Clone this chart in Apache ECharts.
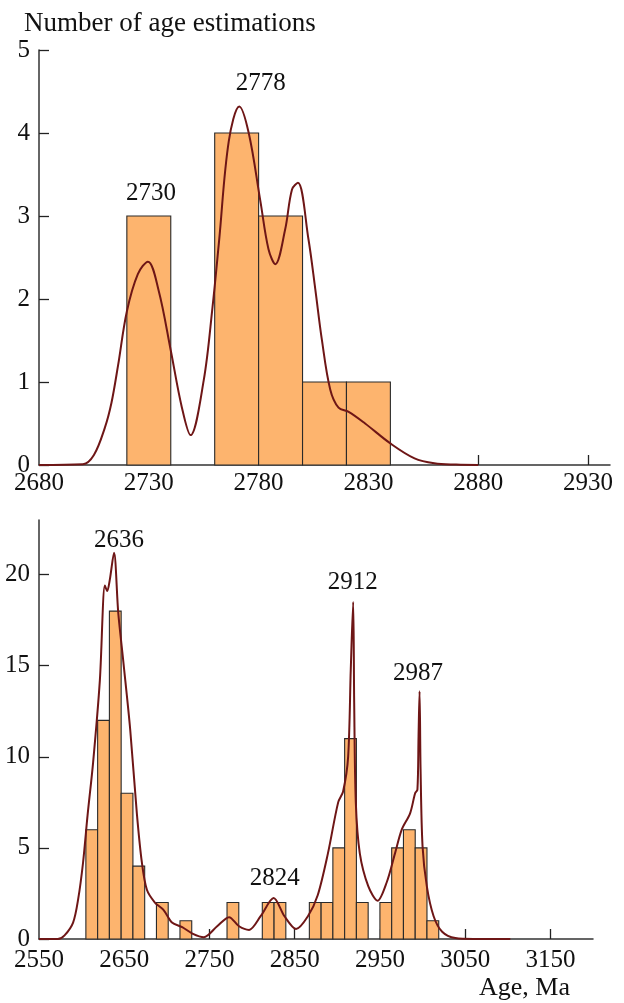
<!DOCTYPE html>
<html>
<head>
<meta charset="utf-8">
<script src="https://cdn.jsdelivr.net/npm/echarts@6/dist/echarts.min.js"></script>
<style>
  html, body { margin: 0; padding: 0; background: #fff; }
  #main { width: 624px; height: 1003px; }
</style>
</head>
<body>
<div id="main"></div>
<script>
// upper panel: histogram (bin start, 20 Ma bins) + density curve
var topBinStart = [2720, 2760, 2780, 2800, 2820];
var topCounts = [3, 4, 3, 1, 1];
var topBinWidth = 20;
var topCurveAge = [2680, 2700, 2705, 2710, 2713, 2716, 2720, 2725, 2729.6, 2734.5, 2740, 2745, 2749, 2755, 2759,
  2762, 2766.4, 2771.2, 2775.5, 2780.8, 2784.5, 2787.6, 2792.1, 2795.2, 2797.9, 2802.7, 2805.8, 2808.8, 2812.6,
  2816.4, 2821, 2828.5, 2840, 2851, 2860, 2870, 2880];
var topCurveVal = [0, 0.01, 0.12, 0.45, 0.75, 1.2, 1.85, 2.3, 2.45, 2.1, 1.38, 0.7, 0.36, 1.02, 1.9,
  2.7, 3.9, 4.32, 4.0, 3.18, 2.6, 2.42, 2.84, 3.32, 3.4, 2.72, 2.12, 1.51, 0.91,
  0.69, 0.64, 0.5, 0.26, 0.08, 0.02, 0.005, 0];
var topPeakNames = ['2730', '2778'];
var topPeakX = [2731, 2781];
var topPeakY = [3.27, 4.6];

// lower panel
var botBinStart = [2605, 2618.8, 2632.6, 2646.4, 2660.2, 2687.8, 2715.4, 2770.6, 2812, 2825.8,
  2867.2, 2881, 2894.8, 2908.6, 2922.4, 2950, 2963.8, 2977.6, 2991.4, 3005.2];
var botCounts = [6, 12, 18, 8, 4, 2, 1, 2, 2, 2,
  2, 2, 5, 11, 2, 2, 5, 6, 5, 1];
var botBinWidth = 13.8;
var botCurveAge = [2550, 2572, 2580, 2590, 2596, 2601.7, 2607, 2613.5, 2621.4, 2627.3, 2630, 2633, 2638, 2643,
  2649, 2657, 2664.8, 2670.7, 2676.6, 2686, 2696, 2706, 2718, 2730, 2743.4, 2759, 2773, 2784.7, 2796.5,
  2810, 2825.3, 2838, 2851.6, 2865.5, 2877, 2889, 2901, 2906.8, 2912.7, 2915.8, 2918.6, 2919.8, 2921.7,
  2926.4, 2936.3, 2947.3, 2957.9, 2967.7, 2975.6, 2985.4, 2991.3, 2994, 2995.3, 2996.5, 2997.7, 3000,
  3005, 3013, 3023, 3038.5, 3060, 3103];
var botCurveVal = [0, 0, 0.2, 0.9, 2.2, 4.2, 6.8, 9.7, 14.2, 19.4, 19.1, 19.7, 21.2, 17.9,
  15.2, 11.5, 6.9, 4.2, 2.7, 2.0, 1.6, 0.9, 0.65, 0.3, 0.1, 0.7, 1.2, 0.7, 0.5,
  1.25, 2.25, 1.25, 0.55, 1.25, 2.4, 4.7, 7.5, 8.1, 10.0, 14.8, 18.5, 13, 7.5,
  4.7, 2.9, 2.1, 3.1, 4.7, 6.0, 6.9, 8.0, 8.2, 11.1, 13.6, 9.3, 5.1,
  2.9, 1.25, 0.4, 0.05, 0, 0];
var botPeakNames = ['2636', '2824', '2912', '2987'];
var botPeakX = [2644, 2826.6, 2918, 2994.7];
var botPeakY = [21.9, 3.35, 19.56, 14.6];

var topXLabels = [2680, 2730, 2780, 2830, 2880, 2930];
var topXTicks = [2730, 2780, 2830, 2880, 2930];
var botXLabels = [2550, 2650, 2750, 2850, 2950, 3050, 3150];
var botXTicks = [2650, 2750, 2850, 2950, 3050, 3150];
var botYLabels = [0, 5, 10, 15, 20];

var FONT = 'Liberation Serif';
var INK = '#111';
var BAR = '#fdb46e';
var CURVE = '#6e1616';

function bins(starts, counts, w) {
  return starts.map(function (s, i) { return [s, s + w, counts[i]]; });
}
function pairs(xs, ys) {
  return xs.map(function (x, i) { return [x, ys[i]]; });
}
function peaks(names, xs, ys) {
  return names.map(function (n, i) { return [xs[i], ys[i], n]; });
}
function renderBar(params, api) {
  var p0 = api.coord([api.value(0), 0]);
  var p1 = api.coord([api.value(1), api.value(2)]);
  return {
    type: 'rect',
    shape: { x: p0[0], y: p1[1], width: p1[0] - p0[0], height: p0[1] - p1[1] },
    style: { fill: BAR, stroke: '#2a2a2a', lineWidth: 1.1 }
  };
}
function renderPeak(params, api) {
  var p = api.coord([api.value(0), api.value(1)]);
  return {
    type: 'text', x: p[0], y: p[1],
    style: {
      text: api.value(2), fill: INK, align: 'center', verticalAlign: 'middle',
      font: '25px "Liberation Serif"'
    }
  };
}
function plain(v) { return String(v); }

var axisLine = { show: true, lineStyle: { color: '#333', width: 1.5 } };
var axisTick = { show: true, inside: true, length: 10, lineStyle: { color: '#222', width: 1.3 } };
var lbl = { color: INK, fontFamily: FONT, fontSize: 25, formatter: plain };

var myChart = echarts.init(document.getElementById('main'));
var option = {
  backgroundColor: '#fff',
  animation: false,
  title: {
    text: 'Number of age estimations', left: 19, top: 5,
    textStyle: { fontFamily: FONT, fontSize: 27, fontWeight: 'normal', color: INK }
  },
  graphic: [{
    type: 'text', left: 479, top: 975,
    style: { text: 'Age, Ma', font: '26px "Liberation Serif"', fill: INK }
  }],
  grid: [
    { left: 39, right: 14, top: 50, bottom: 538 },
    { left: 39, right: 31, top: 520, bottom: 64 }
  ],
  xAxis: [
    {
      type: 'value', gridIndex: 0, min: 2680, max: 2940, splitLine: { show: false },
      axisLine: axisLine,
      axisTick: Object.assign({}, axisTick, { customValues: topXTicks }),
      axisLabel: Object.assign({}, lbl, { customValues: topXLabels, margin: 6 })
    },
    {
      type: 'value', gridIndex: 1, min: 2550, max: 3200, splitLine: { show: false },
      axisLine: axisLine,
      axisTick: Object.assign({}, axisTick, { customValues: botXTicks }),
      axisLabel: Object.assign({}, lbl, { customValues: botXLabels, margin: 9 })
    }
  ],
  yAxis: [
    {
      type: 'value', gridIndex: 0, min: 0, max: 5, interval: 1, splitLine: { show: false },
      axisLine: axisLine, axisTick: axisTick,
      axisLabel: Object.assign({}, lbl, { margin: 9 })
    },
    {
      type: 'value', gridIndex: 1, min: 0, max: 23, splitLine: { show: false },
      axisLine: axisLine,
      axisTick: Object.assign({}, axisTick, { customValues: botYLabels }),
      axisLabel: Object.assign({}, lbl, { customValues: botYLabels, margin: 9 })
    }
  ],
  series: [
    {
      type: 'custom', xAxisIndex: 0, yAxisIndex: 0, renderItem: renderBar,
      data: bins(topBinStart, topCounts, topBinWidth)
    },
    {
      type: 'line', xAxisIndex: 0, yAxisIndex: 0, data: pairs(topCurveAge, topCurveVal),
      showSymbol: false, smooth: 0.35, lineStyle: { color: CURVE, width: 2 }
    },
    {
      type: 'custom', xAxisIndex: 1, yAxisIndex: 1, renderItem: renderBar,
      data: bins(botBinStart, botCounts, botBinWidth)
    },
    {
      type: 'line', xAxisIndex: 1, yAxisIndex: 1, data: pairs(botCurveAge, botCurveVal),
      showSymbol: false, smooth: 0.3, lineStyle: { color: CURVE, width: 2 }
    },
    {
      type: 'custom', xAxisIndex: 0, yAxisIndex: 0, renderItem: renderPeak,
      dimensions: ['x', 'y', { name: 'label', type: 'ordinal' }],
      data: peaks(topPeakNames, topPeakX, topPeakY)
    },
    {
      type: 'custom', xAxisIndex: 1, yAxisIndex: 1, renderItem: renderPeak,
      dimensions: ['x', 'y', { name: 'label', type: 'ordinal' }],
      data: peaks(botPeakNames, botPeakX, botPeakY)
    }
  ]
};
myChart.setOption(option);
</script>
</body>
</html>
